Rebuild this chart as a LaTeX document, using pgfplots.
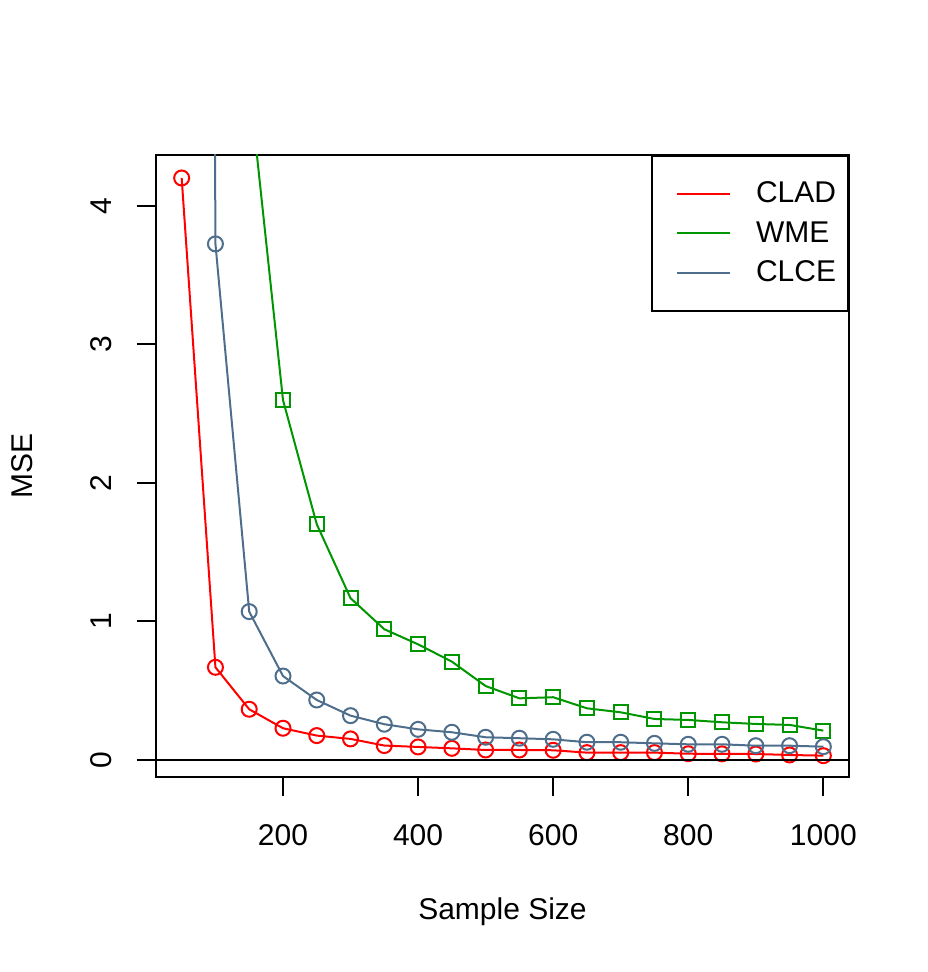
\documentclass[border=0pt]{standalone}
\usepackage{fontspec}
\setmainfont{Liberation Sans}
\usepackage{pgfplots}
\pgfplotsset{compat=1.18}
\definecolor{cgreen}{RGB}{0,150,0}
\definecolor{cblue}{RGB}{78,110,140}
\begin{document}
\begin{tikzpicture}
\useasboundingbox (0,0) rectangle (463.5pt,486pt);
\begin{axis}[
  at={(78pt,97.5pt)}, anchor=south west,
  scale only axis, width=346.5pt, height=311pt,
  xmin=12, xmax=1038, ymin=-0.123, ymax=4.368,
  xtick={200,400,600,800,1000}, ytick={0,1,2,3,4},
  xtick pos=bottom, ytick pos=left,
  tick align=outside, major tick length=9.5pt,
  axis line style={line width=1pt},
  every tick/.style={line width=1pt, black},
  font=\fontsize{15}{18}\selectfont,
  /pgf/number format/assume math mode=true,
  /pgf/number format/1000 sep={},
  xticklabel style={anchor=center, yshift=-19.5pt},
  yticklabel style={xshift=-18pt, rotate=90, anchor=center},
  xlabel={Sample Size}, ylabel={MSE},
  xlabel style={at={(axis description cs:0.5,-0.2170)}, anchor=center},
  ylabel style={at={(axis description cs:-0.1926,0.5)}, anchor=center, rotate=0},
  clip marker paths=true,
  legend style={at={(1,1)}, anchor=north east, draw=black, line width=1pt,
    inner xsep=0pt, inner ysep=9.125pt, row sep=0pt,
    nodes={inner sep=0pt, minimum height=19.75pt},
    font=\fontsize{15}{18}\selectfont},
  legend image code/.code={\draw[#1] (12.5pt,0) -- (39pt,0); \path[draw=none] (0,0) -- (52pt,0);},
]
\addplot[red, line width=1pt, mark=o, mark size=3.75pt] coordinates {
(50,4.202) (100,0.669) (150,0.366) (200,0.229) (250,0.176) (300,0.152)
(350,0.104) (400,0.094) (450,0.084) (500,0.072) (550,0.072) (600,0.070)
(650,0.053) (700,0.053) (750,0.053) (800,0.045) (850,0.044) (900,0.043)
(950,0.036) (1000,0.031)};
\addlegendentry{\makebox[46pt][l]{CLAD}}
\addplot[cgreen, line width=1pt, mark=square, mark size=3.5pt] coordinates {
(50,20) (100,9) (150,4.89) (200,2.599) (250,1.702) (300,1.168) (350,0.944)
(400,0.835) (450,0.710) (500,0.534) (550,0.445) (600,0.453) (650,0.373)
(700,0.344) (750,0.296) (800,0.289) (850,0.272) (900,0.260) (950,0.253)
(1000,0.212)};
\addlegendentry{\makebox[46pt][l]{WME}}
\addplot[cblue, line width=1pt, mark=o, mark size=3.75pt] coordinates {
(50,60) (100,3.726) (150,1.071) (200,0.606) (250,0.433) (300,0.320)
(350,0.258) (400,0.221) (450,0.200) (500,0.164) (550,0.157) (600,0.149)
(650,0.128) (700,0.128) (750,0.120) (800,0.113) (850,0.113) (900,0.103)
(950,0.103) (1000,0.096)};
\addlegendentry{\makebox[46pt][l]{CLCE}}
\addplot[black, line width=1pt, forget plot] coordinates {(12,0) (1038,0)};
\end{axis}
\end{tikzpicture}
\end{document}
